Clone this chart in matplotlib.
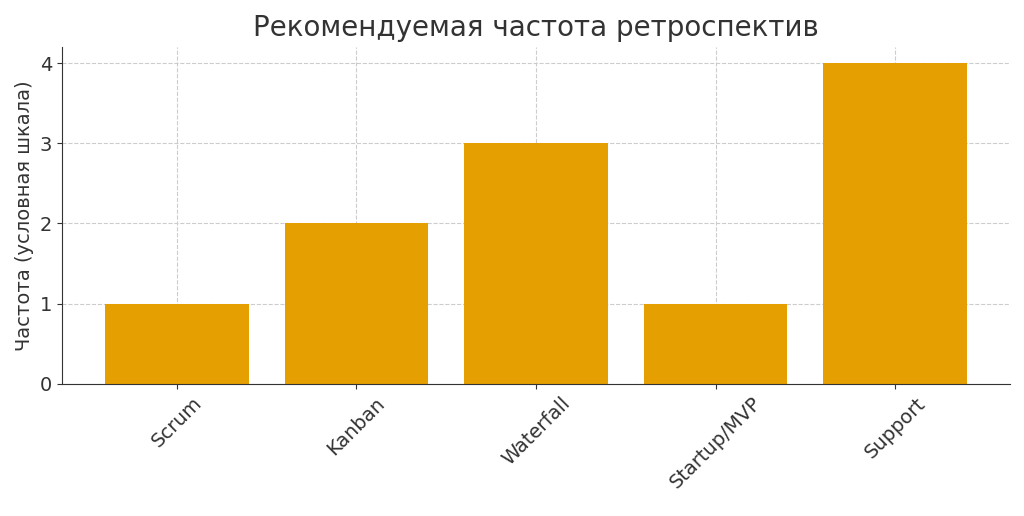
import matplotlib
matplotlib.use("Agg")
import matplotlib.pyplot as plt

categories = ["Scrum", "Kanban", "Waterfall", "Startup/MVP", "Support"]
values = [1, 2, 3, 1, 4]
yticks = [0, 1, 2, 3, 4]

plt.rcParams['font.family'] = ['DejaVu Sans']
fig = plt.figure(figsize=(10.24, 5.16), dpi=100)
ax = fig.add_axes([0.0605, 0.256, 0.926, 0.653])
ax.bar(categories, values, color="#E69F00", width=0.8, zorder=2)
ax.set_title("Рекомендуемая частота ретроспектив", fontsize=20, color="#333333", pad=8)
ax.set_ylabel("Частота (условная шкала)", fontsize=14, color="#333333")
ax.set_yticks(yticks)
ax.tick_params(axis='both', labelsize=14, colors="#333333")
plt.setp(ax.get_xticklabels(), rotation=45)
ax.grid(True, linestyle="--", color="#cccccc", linewidth=0.8, zorder=0)
ax.set_axisbelow(True)
for s in ["top", "right"]:
    ax.spines[s].set_visible(False)
for s in ["left", "bottom"]:
    ax.spines[s].set_color("#333333")
fig.savefig("out.png", dpi=100)
